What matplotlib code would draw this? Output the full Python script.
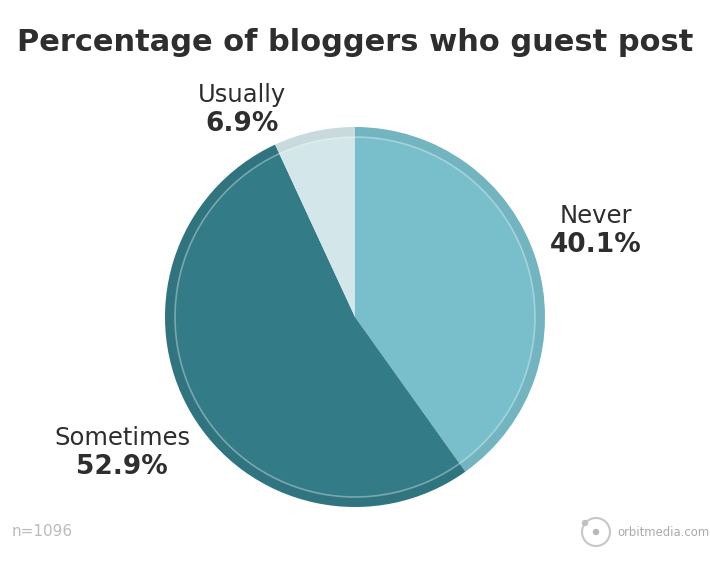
import matplotlib
matplotlib.use("Agg")
import matplotlib.pyplot as plt
from matplotlib.patches import Circle, Wedge

categories = ["Never", "Sometimes", "Usually"]
values = [40.1, 52.9, 6.9]
labels_pct = ["40.1%", "52.9%", "6.9%"]
title = "Percentage of bloggers who guest post"
note = "n=1096"
brand = "orbitmedia.com"

colors = ["#79BFCB", "#337B87", "#D3E6E9"]

W, H = 710, 569
fig = plt.figure(figsize=(W / 100, H / 100), dpi=100)
ax = fig.add_axes([0, 0, 1, 1])

def Y(y):
    return H - y

cx, cy, r = 355, Y(317), 190
ax.pie(values, colors=colors, startangle=90, counterclock=False,
       center=(cx, cy), radius=r, frame=True,
       wedgeprops=dict(linewidth=0))
ax.set_xlim(0, W)
ax.set_ylim(0, H)
ax.set_aspect("equal")
ax.axis("off")
# slightly darker outer ring + thin inner light line
ax.add_patch(Wedge((cx, cy), r, 0, 360, width=10, fc=(0, 0, 0, 0.05), lw=0))
ax.add_patch(Circle((cx, cy), r - 10, fill=False, ec=(1, 1, 1, 0.35), lw=1.2))

dark = "#2E2E2E"
ax.text(355, Y(42), title, ha="center", va="center", fontsize=22,
        fontweight="bold", color=dark)

lab_pos = {"Usually": (242, 95), "Never": (596, 216), "Sometimes": (122, 438)}
for cat, pct in zip(categories, labels_pct):
    x, y = lab_pos[cat]
    ax.text(x, Y(y), cat, ha="center", va="center", fontsize=17.5, color=dark)
    ax.text(x, Y(y + 29), pct, ha="center", va="center", fontsize=19,
            fontweight="bold", color=dark)

ax.text(12, Y(531), note, ha="left", va="center", fontsize=11, color="#BBBBBB")

# logo
ax.add_patch(Circle((596, Y(532)), 14, fill=False, ec="#C8C8C8", lw=1.5))
ax.add_patch(Circle((596, Y(532)), 2.5, color="#B8B8B8"))
ax.add_patch(Circle((585, Y(523)), 2.5, color="#C0C0C0"))
ax.text(617, Y(532), brand, ha="left", va="center", fontsize=8.4,
        color="#AAAAAA")

fig.savefig("out.png", dpi=100)
